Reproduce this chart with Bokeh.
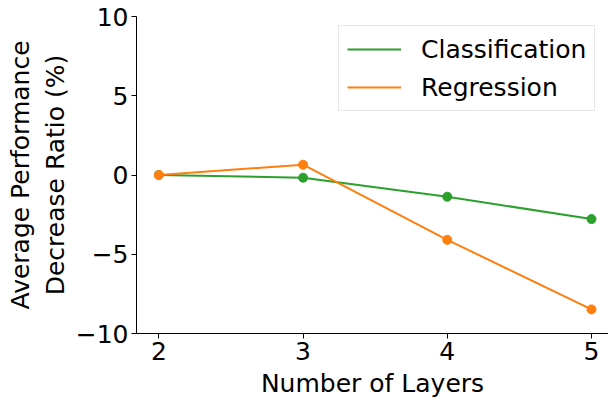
from bokeh.plotting import figure
from bokeh.models import FixedTicker, Legend, LegendItem, Range1d
from bokeh.embed import file_html
from bokeh.resources import INLINE

layers = [2, 3, 4, 5]
classification = [0.0, -0.17, -1.37, -2.78]
regression = [0.0, 0.65, -4.09, -8.48]
x_ticks = [2, 3, 4, 5]
y_ticks = [-10, -5, 0, 5, 10]

GREEN = "#2ca02c"
ORANGE = "#ff7f0e"
FONT = "DejaVu Sans"
FS = "25px"

p = figure(width=608, height=400, output_backend="svg", toolbar_location=None,
           x_range=Range1d(1.845, 5.118), y_range=Range1d(-10, 10),
           min_border_left=136, min_border_right=0, min_border_top=16, min_border_bottom=67)
p.outline_line_color = None
p.xgrid.visible = False
p.ygrid.visible = False
p.background_fill_color = "white"
p.border_fill_color = "white"

l1 = p.line(layers, classification, line_color=GREEN, line_width=2)
s1 = p.scatter(layers, classification, marker="circle", size=9, fill_color=GREEN, line_color=GREEN)
l2 = p.line(layers, regression, line_color=ORANGE, line_width=2)
s2 = p.scatter(layers, regression, marker="circle", size=9, fill_color=ORANGE, line_color=ORANGE)

for ax in (p.xaxis[0], p.yaxis[0]):
    ax.major_label_text_font = FONT
    ax.major_label_text_font_size = FS
    ax.major_label_text_color = "black"
    ax.axis_label_text_font = FONT
    ax.axis_label_text_font_size = FS
    ax.axis_label_text_font_style = "normal"
    ax.axis_label_text_color = "black"
    ax.axis_line_color = "black"
    ax.major_tick_line_color = "black"
    ax.major_tick_out = 5
    ax.major_tick_in = 0
    ax.minor_tick_out = 0
    ax.minor_tick_in = 0

p.xaxis.ticker = FixedTicker(ticks=x_ticks)
p.yaxis.ticker = FixedTicker(ticks=y_ticks)
p.yaxis.major_label_overrides = {t: (str(t).replace("-", "\u2212")) for t in y_ticks}
p.xaxis.axis_label = "Number of Layers"
p.yaxis.axis_label = "Average Performance\nDecrease Ratio (%)"
p.xaxis.major_label_standoff = 3
p.yaxis.major_label_standoff = 3
p.xaxis.axis_label_standoff = 6
p.yaxis.axis_label_standoff = 3

legend = Legend(items=[LegendItem(label="Classification", renderers=[l1]),
                       LegendItem(label="Regression", renderers=[l2])],
                location=(202, 222))
legend.label_text_font = FONT
legend.label_text_font_size = FS
legend.label_text_color = "black"
legend.glyph_width = 54
legend.glyph_height = 30
legend.label_height = 30
legend.label_standoff = 20
legend.spacing = 8
legend.padding = 8
legend.margin = 0
legend.border_line_color = "#d0d0d0"
legend.border_line_width = 1
legend.background_fill_alpha = 0.8
p.add_layout(legend)

open("out.html", "w").write(file_html(p, INLINE))
